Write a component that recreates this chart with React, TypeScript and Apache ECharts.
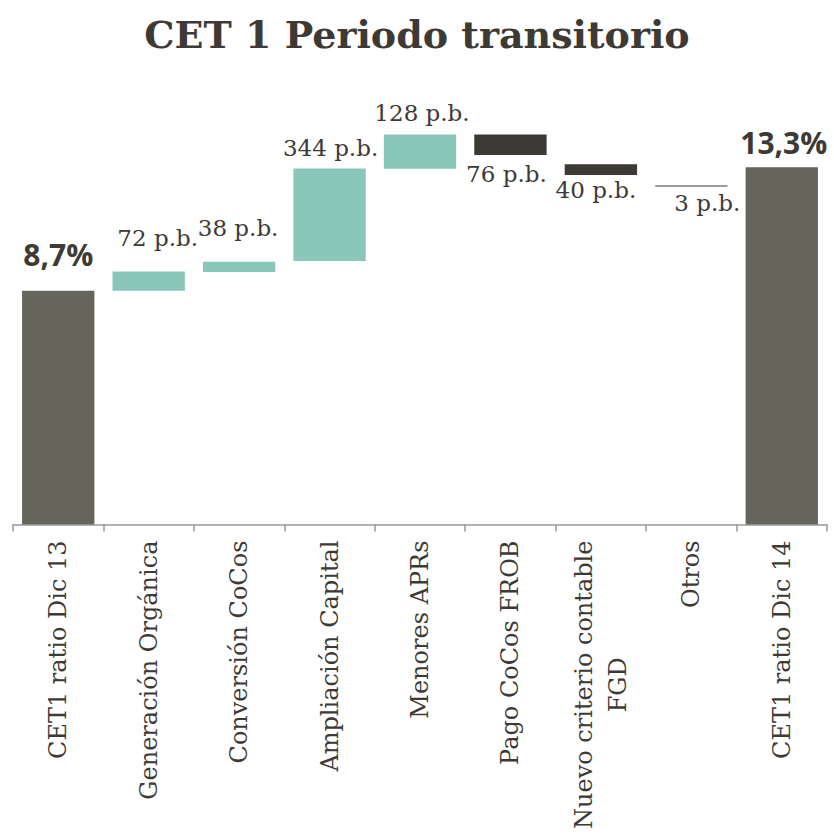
import React, { useEffect, useRef } from "react";
import * as echarts from "echarts";

const categories = [
  "CET1 ratio Dic 13",
  "Generación Orgánica",
  "Conversión CoCos",
  "Ampliación Capital",
  "Menores APRs",
  "Pago CoCos FROB",
  "Nuevo criterio contable\nFGD",
  "Otros",
  "CET1 ratio Dic 14",
];
// bottom of each floating bar (%)
const barBottoms = [0, 8.7, 9.4, 9.81, 13.24, 13.76, 13.01, 12.58, 0];
// height of each bar (%): totals and changes (p.b. / 100)
const barHeights = [8.7, 0.72, 0.38, 3.44, 1.28, 0.76, 0.4, 0.03, 13.3];
const valueLabels = ["8,7%", "72 p.b.", "38 p.b.", "344 p.b.", "128 p.b.", "76 p.b.", "40 p.b.", "3 p.b.", "13,3%"];
const kinds = ["total", "up", "up", "up", "up", "down", "down", "down", "total"];

const TEXT = "#3d3a35";
const COLORS: Record<string, string> = { total: "#66665c", up: "#88c7ba", down: "#3d3a35" };

// label placement tweaks: [position, distance, dx]
const labelPlace: [string, number, number][] = [
  ["top", 21, 0],
  ["top", 22, 9],
  ["top", 22, -1],
  ["top", 9, 1],
  ["top", 10, 2],
  ["bottom", 8, -4],
  ["bottom", 3, -5],
  ["bottom", 5, 16],
  ["top", 10, 2],
];

export default function App() {
  const ref = useRef<HTMLDivElement>(null);
  useEffect(() => {
    const chart = echarts.init(ref.current!, null, { renderer: "svg" });
    const H = 839;
    const baseline = 524.5;
    const yMax = 15;
    const pxPer = 26.86;
    const gridTop = baseline - yMax * pxPer;
    chart.setOption({
      animation: false,
      title: {
        text: "CET 1 Periodo transitorio",
        left: "center",
        top: 10,
        textStyle: { fontFamily: "DejaVu Serif", fontWeight: "bold", fontSize: 38, color: TEXT },
      },
      grid: { left: 13, right: 7, top: gridTop, bottom: H - baseline, containLabel: false },
      xAxis: {
        type: "category",
        data: categories,
        axisLine: { lineStyle: { color: "#999", width: 1.5 } },
        axisTick: { show: true, length: 7, lineStyle: { color: "#999", width: 1.5 } },
        axisLabel: {
          rotate: 90,
          margin: 16,
          interval: 0,
          color: TEXT,
          formatter: (v: string) =>
            v
              .split("\n")
              .map((line) => `{c|${line}}`)
              .join("\n"),
          rich: {
            c: {
              fontFamily: "DejaVu Serif",
              fontSize: 24,
              color: TEXT,
              lineHeight: 34,
              align: "center",
            },
          },
        },
      },
      yAxis: { type: "value", min: 0, max: yMax, show: false, splitLine: { show: false } },
      series: [
        {
          type: "bar",
          stack: "w",
          data: barBottoms,
          itemStyle: { color: "transparent" },
          barWidth: "80%",
          silent: true,
        },
        {
          type: "bar",
          stack: "w",
          barWidth: "80%",
          barMinHeight: 1,
          data: barHeights.map((v, i) => {
            const [pos, dist, dx] = labelPlace[i];
            const isTotal = kinds[i] === "total";
            return {
              value: v,
              itemStyle: { color: COLORS[kinds[i]] },
              label: {
                show: true,
                position: pos,
                distance: dist,
                offset: [dx, 0],
                formatter: valueLabels[i],
                fontFamily: isTotal ? "Open Sans" : "DejaVu Serif",
                fontWeight: isTotal ? "bold" : "normal",
                fontSize: isTotal ? 30 : 23,
                color: TEXT,
              },
            };
          }),
        },
      ],
    });
    return () => chart.dispose();
  }, []);
  return <div ref={ref} style={{ width: 834, height: 839, position: "absolute", left: 0, top: 0 }} />;
}
